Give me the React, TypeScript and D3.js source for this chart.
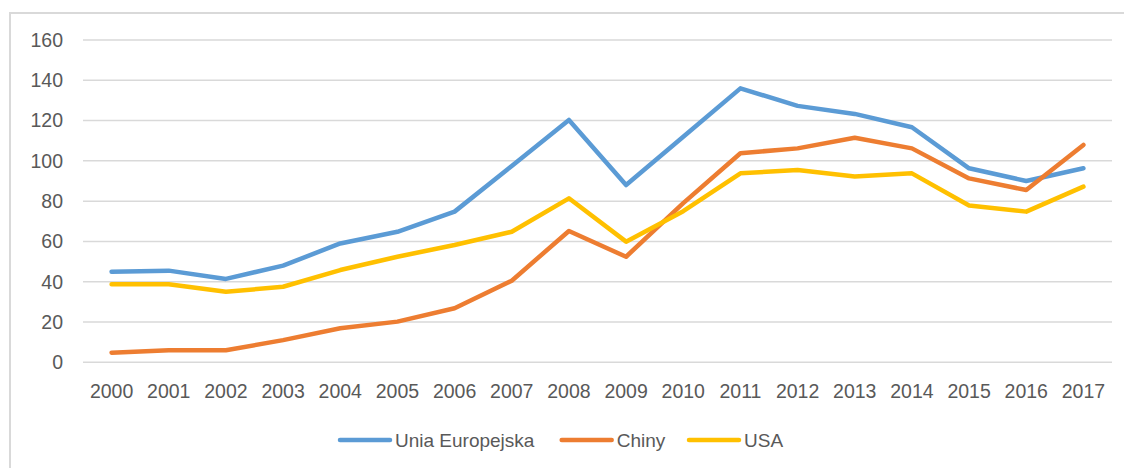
import React from "react";
import * as d3 from "d3";

const years = ["2000","2001","2002","2003","2004","2005","2006","2007","2008","2009","2010","2011","2012","2013","2014","2015","2016","2017"];
const euValues = [45, 45.5, 41.4, 48, 59, 64.8, 74.8, 97.5, 120.3, 88, 112, 136, 127.3, 123.3, 116.7, 96.3, 90, 96.3];
const chinaValues = [4.8, 6, 6, 11, 16.9, 20.2, 26.8, 40.5, 65.2, 52.4, 79, 103.8, 106.2, 111.5, 106.2, 91.3, 85.5, 107.9];
const usaValues = [38.7, 38.7, 35, 37.5, 45.8, 52.4, 58.2, 64.8, 81.4, 59.9, 75, 93.8, 95.5, 92.2, 93.8, 77.8, 74.8, 87.2];
const yTicks = [0, 20, 40, 60, 80, 100, 120, 140, 160];
const seriesNames = ["Unia Europejska", "Chiny", "USA"];
const seriesColors = ["#5B9BD5", "#ED7D31", "#FFC000"];

export default function App() {
  const W = 1124, H = 468;
  const x = d3.scaleBand<string>().domain(years).range([83, 1112]);
  const y = d3.scaleLinear().domain([0, 160]).range([362.3, 40]);
  const series = [euValues, chinaValues, usaValues];
  const line = d3.line<number>()
    .x((_, i) => (x(years[i]) as number) + x.bandwidth() / 2)
    .y((v) => y(v));
  const font = "'Liberation Sans', Arial, sans-serif";
  const legendX = [340, 561.7, 689];
  return (
    <svg width={W} height={H} style={{ position: "absolute", left: 0, top: 0, background: "#fff" }}>
      <rect x={0} y={0} width={W} height={H} fill="#fff" />
      <path d={`M10,${H + 2} L10,13 L${W + 2},13`} fill="none" stroke="#D9D9D9" strokeWidth={2} />
      {yTicks.map((t) => (
        <g key={t}>
          <line x1={83} x2={1112} y1={y(t)} y2={y(t)} stroke="#D9D9D9" strokeWidth={1.5} />
          <text x={63} y={y(t)} dy="0.35em" textAnchor="end" fontFamily={font} fontSize={19.5} fill="#595959">{t}</text>
        </g>
      ))}
      {years.map((yr) => (
        <text key={yr} x={(x(yr) as number) + x.bandwidth() / 2} y={398} textAnchor="middle" fontFamily={font} fontSize={19.5} fill="#595959">{yr}</text>
      ))}
      {series.map((s, i) => (
        <path key={i} d={line(s) || ""} fill="none" stroke={seriesColors[i]} strokeWidth={4.5} strokeLinecap="round" strokeLinejoin="round" />
      ))}
      {seriesNames.map((n, i) => (
        <g key={n}>
          <line x1={legendX[i]} x2={legendX[i] + 50} y1={440} y2={440} stroke={seriesColors[i]} strokeWidth={4.5} strokeLinecap="round" />
          <text x={legendX[i] + 55} y={446.5} fontFamily={font} fontSize={19} fill="#595959">{n}</text>
        </g>
      ))}
    </svg>
  );
}
